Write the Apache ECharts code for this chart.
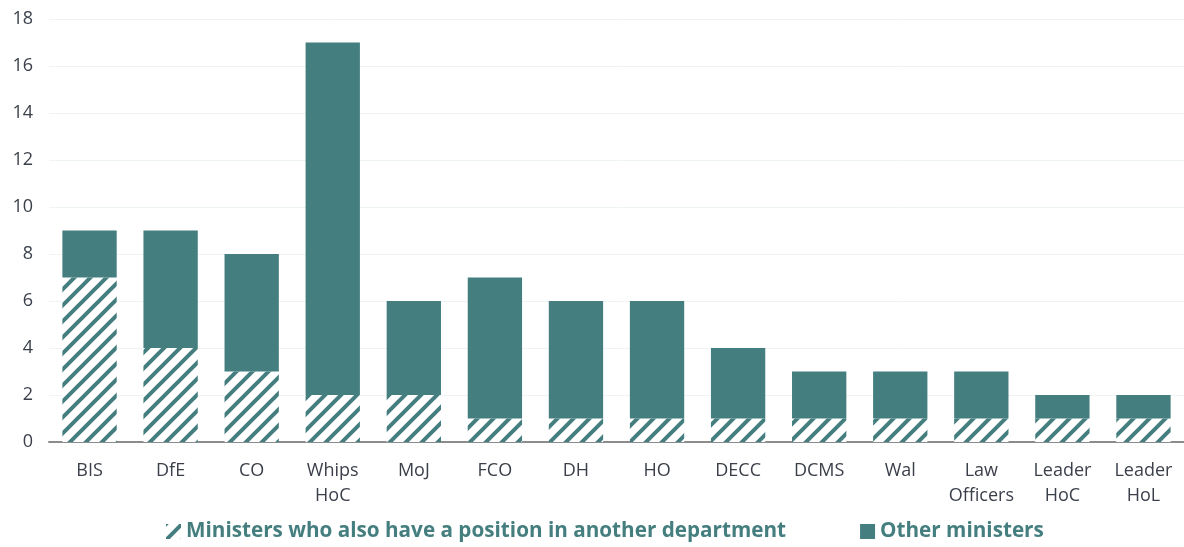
<!DOCTYPE html>
<html>
<head>
<meta charset="utf-8">
<script src="https://cdn.jsdelivr.net/npm/echarts@6/dist/echarts.min.js"></script>
<style>html,body{margin:0;padding:0;background:#fff}#c{width:1184px;height:547px}</style>
</head>
<body>
<div id="c"></div>
<script>
const categories = ['BIS','DfE','CO','Whips\nHoC','MoJ','FCO','DH','HO','DECC','DCMS','Wal','Law\nOfficers','Leader\nHoC','Leader\nHoL'];
const alsoOtherDept = [7,4,3,2,2,1,1,1,1,1,1,1,1,1];
const otherMinisters = [2,5,5,15,4,6,5,5,3,2,2,2,1,1];
const yTicks = [0,2,4,6,8,10,12,14,16,18];

const teal = '#457e7f';
function makePattern(){
  const s = 16;
  const cv = document.createElement('canvas');
  cv.width = s; cv.height = s;
  const ctx = cv.getContext('2d');
  ctx.fillStyle = '#fff'; ctx.fillRect(0,0,s,s);
  ctx.strokeStyle = teal; ctx.lineWidth = 4; ctx.lineCap = 'square';
  ctx.beginPath();
  ctx.moveTo(-4, s+4); ctx.lineTo(s+4, -4);
  ctx.moveTo(-4, 4); ctx.lineTo(4, -4);
  ctx.moveTo(s-4, s+4); ctx.lineTo(s+4, s-4);
  ctx.stroke();
  return cv;
}
const pattern = {image: makePattern(), repeat: 'repeat'};

const chart = echarts.init(document.getElementById('c'));
chart.setOption({
  animation: false,
  textStyle: {fontFamily: 'Open Sans'},
  grid: {left: 49, right: 0, top: 19, bottom: 105},
  legend: {
    bottom: 0, left: 161, itemGap: 74, itemWidth: 15, itemHeight: 15, icon: 'rect',
    textStyle: {fontSize: 20.7, fontWeight: 'bold', color: teal, fontFamily: 'Open Sans'},
    data: ['Ministers who also have a position in another department', 'Other ministers']
  },
  xAxis: {
    type: 'category', data: categories,
    axisLine: {lineStyle: {color: '#8c8c8c', width: 2}},
    axisTick: {show: false},
    axisLabel: {fontSize: 18, color: '#3a3f4a', margin: 16, lineHeight: 25, interval: 0, fontFamily: 'Open Sans'}
  },
  yAxis: {
    type: 'value', min: 0, max: 18, interval: 2,
    axisLine: {show: false}, axisTick: {show: false},
    axisLabel: {fontSize: 18, color: '#3a3f4a', margin: 16, fontFamily: 'Open Sans',
      formatter: v => yTicks.includes(v) ? String(v) : ''},
    splitLine: {lineStyle: {color: '#eef4f4', width: 1}}
  },
  series: [
    {name: 'Ministers who also have a position in another department', type: 'bar', stack: 'a',
     data: alsoOtherDept, barWidth: '67%', itemStyle: {color: pattern}},
    {name: 'Other ministers', type: 'bar', stack: 'a', data: otherMinisters,
     barWidth: '67%', itemStyle: {color: teal}}
  ]
});
</script>
</body>
</html>
